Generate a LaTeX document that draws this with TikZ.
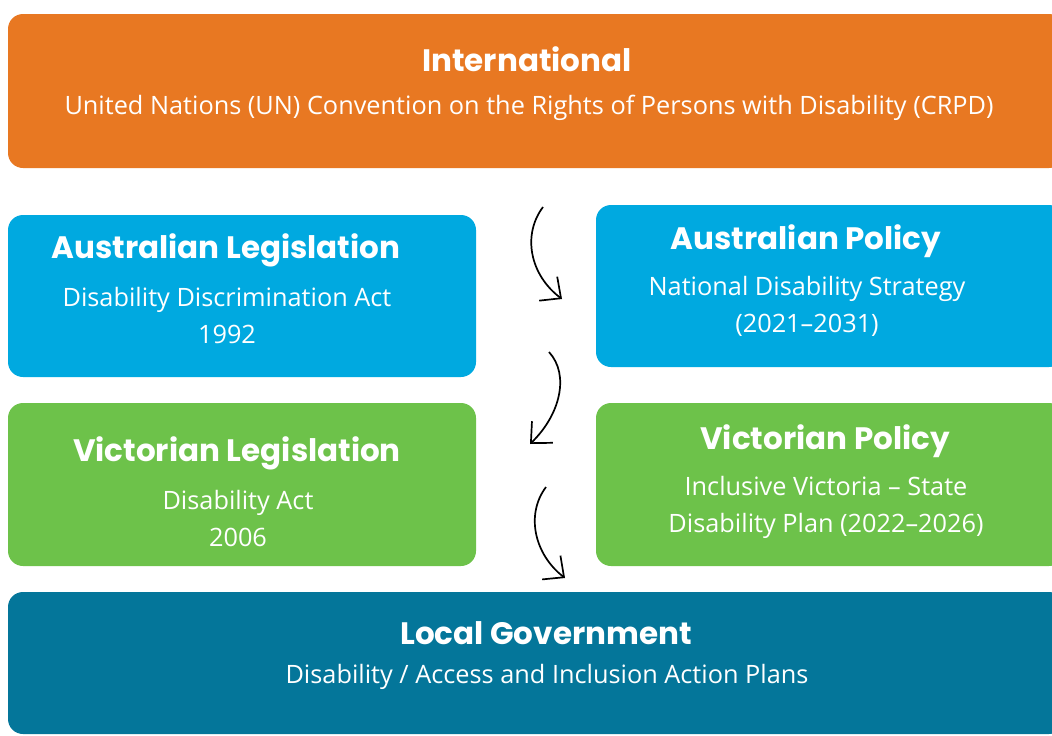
\documentclass[tikz,border=0pt]{standalone}
\usepackage{fontspec}
\setmainfont{Open Sans}
\newfontfamily\headfont{Poppins}
\usetikzlibrary{arrows.meta}

\definecolor{intlorange}{RGB}{232,120,34}
\definecolor{ausblue}{RGB}{0,169,224}
\definecolor{vicgreen}{RGB}{109,194,74}
\definecolor{localteal}{RGB}{4,118,154}

\begin{document}
\begin{tikzpicture}[x=1pt,y=-1pt,
  box/.style={rounded corners=15pt},
  head/.style={text=white,font=\headfont\bfseries\fontsize{31}{33}\selectfont},
  body/.style={text=white,align=center,font=\fontsize{25.3}{37}\selectfont},
  flow/.style={line width=1.7pt,-{Straight Barb[length=16pt,width=30pt,line width=1.7pt]}}]
\useasboundingbox (0,0) rectangle (1052,736);
\clip (0,0) rectangle (1052,736);

% levels, top to bottom
\fill[box,intlorange] (8,14) rectangle (1064,168);
\fill[box,ausblue] (8,215) rectangle (476,377);
\fill[box,ausblue] (596,205) rectangle (1064,367);
\fill[box,vicgreen] (8,403) rectangle (476,566);
\fill[box,vicgreen] (596,403) rectangle (1064,566);
\fill[box,localteal] (8,592) rectangle (1064,734);

\node[head] (intl) at (527,59) {International};
\node[body] (crpd) at (529,108) {United Nations (UN) Convention on the Rights of Persons with Disability (CRPD)};

\node[head] (auslaw) at (226,250) {Australian Legislation};
\node[body] (dda) at (227,316) {Disability Discrimination Act\\1992};

\node[head] (auspol) at (806,241) {Australian Policy};
\node[body] (nds) at (807,306) {National Disability Strategy\\(2021–2031)};

\node[head] (viclaw) at (237,453) {Victorian Legislation};
\node[body] (da) at (238,519) {Disability Act\\2006};

\node[head] (vicpol) at (825,441) {Victorian Policy};
\node[body] (sdp) at (826,507) {Inclusive Victoria – State\\Disability Plan (2022–2026)};

\node[head] (local) at (546,633) {Local Government};
\node[body] (aiap) at (547,677) {Disability / Access and Inclusion Action Plans};

% hand drawn arrows between the columns
\coordinate (a1) at (543,207);
\coordinate (b1) at (562,299);
\coordinate (a2) at (549,352);
\coordinate (b2) at (530,444);
\coordinate (a3) at (546,487);
\coordinate (b3) at (565,578);
\draw[flow] (a1) .. controls (522,235) and (530,275) .. (b1);
\draw[flow] (a2) .. controls (570,375) and (560,415) .. (b2);
\draw[flow] (a3) .. controls (525,515) and (535,555) .. (b3);
\end{tikzpicture}
\end{document}
